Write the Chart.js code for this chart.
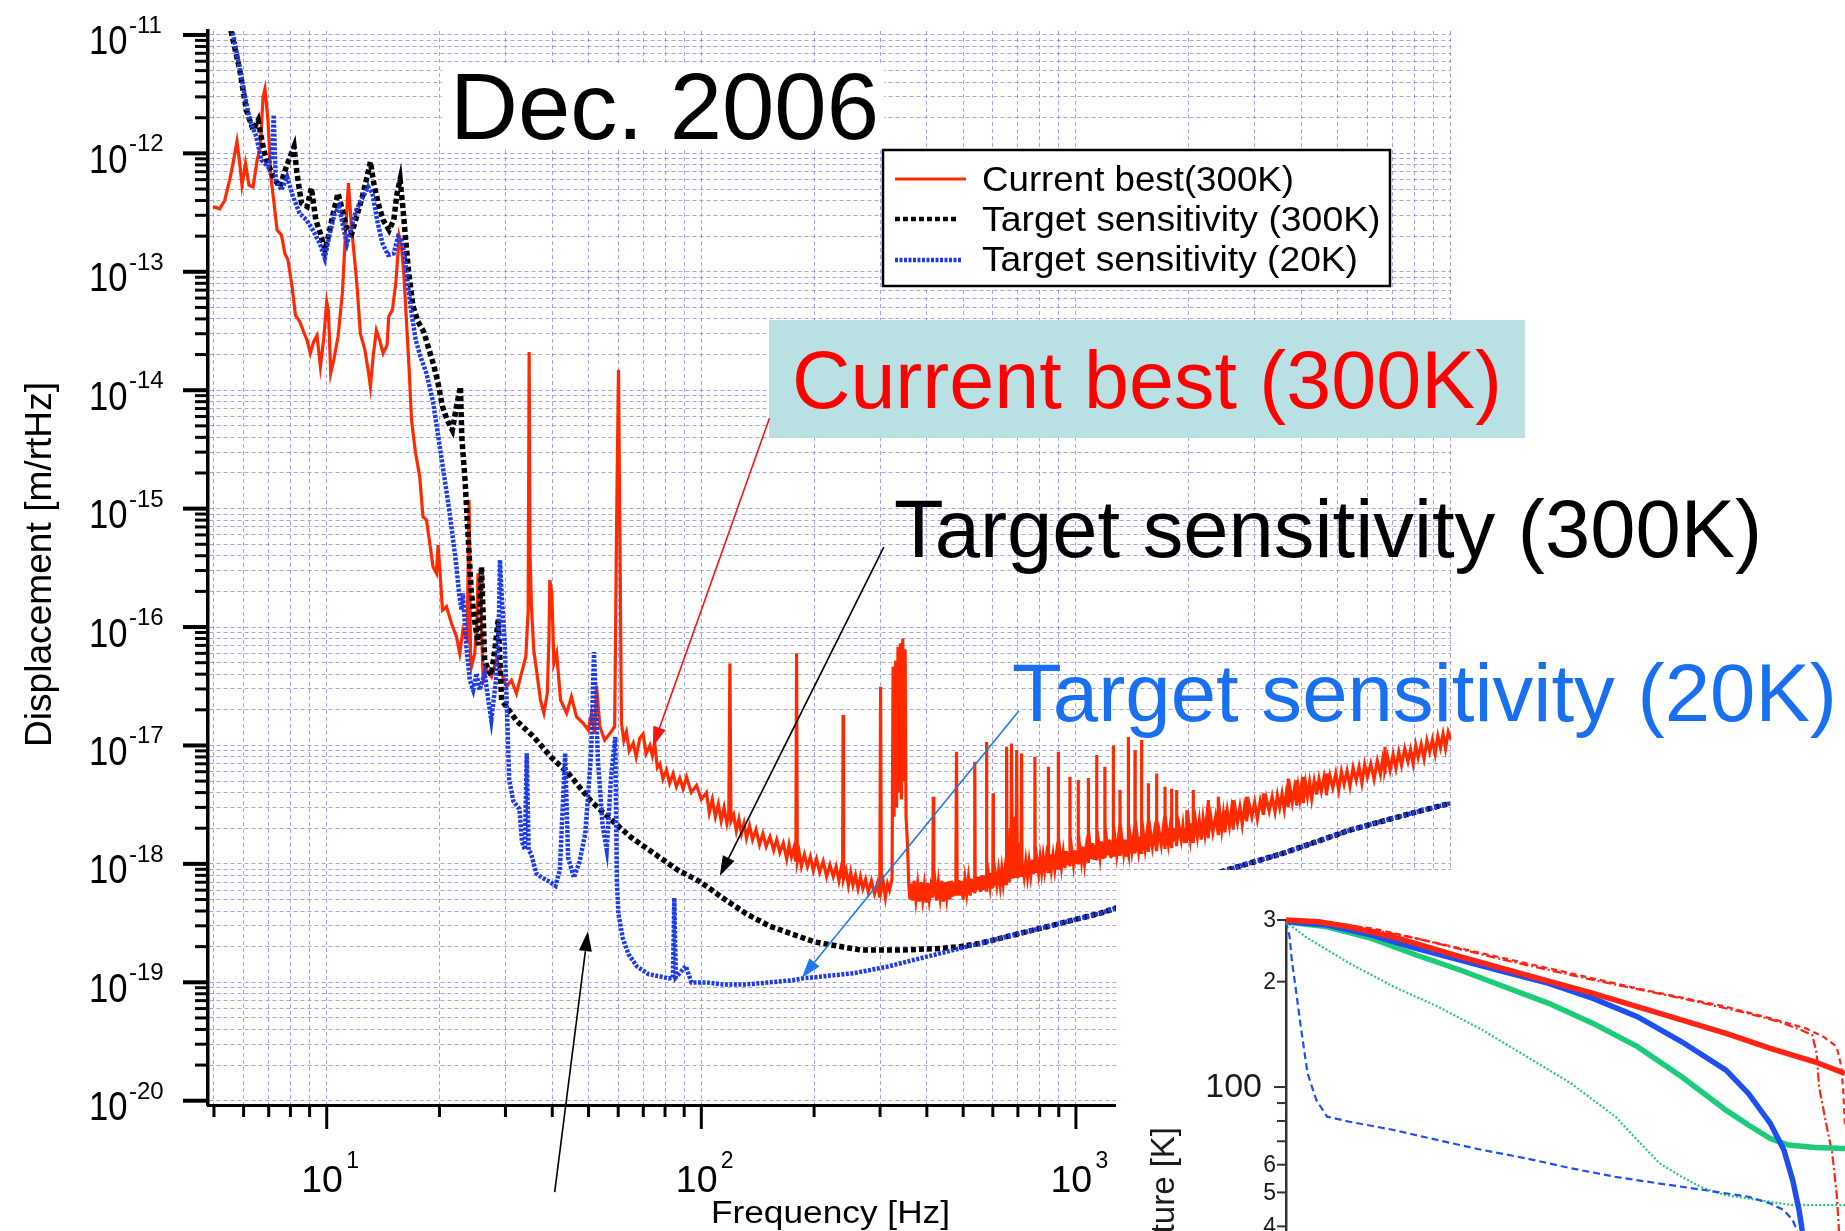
<!DOCTYPE html>
<html>
<head>
<meta charset="utf-8">
<title>Displacement sensitivity, Dec. 2006</title>
<script src="https://cdn.jsdelivr.net/npm/chart.js@4.4.1/dist/chart.umd.min.js"></script>
<style>
  html, body { margin: 0; padding: 0; background: #fff; overflow: hidden; }
  #wrap { position: relative; width: 1845px; height: 1231px; }
  #main { position: absolute; left: 0; top: 0; }
  #inset { position: absolute; left: 1116px; top: 870px; background: #fff; }
</style>
</head>
<body>
<div id="wrap">
  <canvas id="main" width="1845" height="1231"></canvas>
  <canvas id="inset" width="729" height="361"></canvas>
</div>
<script>
// ---------- displacement spectra: [frequency Hz, displacement m/rtHz] ----------
const currentBest = [
  [4.97,3.55e-13],[5.18,3.4e-13],[5.34,4.0e-13],[5.51,6.0e-13],[5.62,8.2e-13],[5.76,1.26e-12],[5.86,8.2e-13],
  [5.94,5.4e-13],[6.07,8.2e-13],[6.20,5.4e-13],[6.36,5.2e-13],[6.52,8.8e-13],[6.65,1.14e-12],[6.76,3.0e-12],
  [6.84,3.5e-12],[6.97,1.9e-12],[7.09,6.4e-13],[7.22,4.0e-13],[7.37,2.25e-13],[7.57,2.05e-13],[7.73,1.43e-13],
  [7.88,1.26e-13],[8.08,7.5e-14],[8.25,4.3e-14],[8.47,3.8e-14],[8.68,3.1e-14],[8.86,2.65e-14],[9.04,2.05e-14],
  [9.23,2.57e-14],[9.42,2.9e-14],[9.62,1.58e-14],[9.82,2.74e-14],[10.0,5.6e-14],[10.1,4.75e-14],[10.25,1.39e-14],
  [10.44,1.8e-14],[10.72,2.83e-14],[11.01,6.6e-14],[11.22,2.1e-13],[11.43,5.6e-13],[11.64,2.4e-13],[11.83,1.43e-13],
  [12.05,7.5e-14],[12.30,3.0e-14],[12.64,2.2e-14],[12.90,1.48e-14],[13.08,1.07e-14],[13.30,1.92e-14],[13.57,3.2e-14],
  [13.85,2.65e-14],[14.14,2.05e-14],[14.49,2.4e-14],[14.64,4.2e-14],[14.97,4.75e-14],[15.29,8.0e-14],[15.61,1.98e-13],
  [15.83,1.63e-13],[16.06,9.7e-14],[16.32,3.9e-14],[16.60,1.48e-14],[16.84,5.6e-15],[17.25,3.0e-15],[17.71,1.86e-15],
  [18.07,8.55e-16],[18.46,8.0e-16],[18.84,5.1e-16],[19.22,3.23e-16],[19.63,2.84e-16],[19.83,4.93e-16],[20.13,2.49e-16],
  [20.37,1.39e-16],[20.88,1.49e-16],[21.53,1.07e-16],[22.2,8.28e-17],[22.65,6.0e-17],[23.1,9.44e-17],[23.7,8.0e-17],
  [23.99,1.18e-15],[24.2,6.0e-17],[24.34,4.62e-17],[24.84,6.0e-17],[25.2,1.2e-16],[25.35,2.84e-16],[25.73,1.92e-16],
  [26.15,3.56e-17],[26.79,4.33e-17],[27.54,3.8e-17],[28.39,5.26e-17],[29.28,4.07e-17],[30.18,3.13e-17],[31.13,3.56e-17],
  [32.1,2.75e-17],[33.1,4.07e-17],[34.0,5.61e-17],[34.5,1.39e-16],[34.7,2.1e-14],[34.9,4.0e-16],[35.2,1.49e-16],
  [35.7,6.4e-17],[36.4,4.07e-17],[37.2,2.42e-17],[38.0,1.87e-17],[38.8,2.75e-17],[39.2,8.0e-17],[39.4,2.49e-16],
  [39.9,1.92e-16],[40.4,4.93e-17],[41.1,6.0e-17],[42.1,2.42e-17],[43.7,1.87e-17],[45.0,2.58e-17],[46.4,1.75e-17],
  [48.4,1.54e-17],[49.9,1.35e-17],[50.9,1.87e-17],[51.9,1.26e-17],[52.5,3.2e-17],[53.6,1.44e-17],[55.2,1.11e-17],
  [57.0,1.26e-17],[58.7,1.44e-17],[59.4,7.5e-16],[60.1,1.49e-14],[60.6,7.0e-16],[61.2,1.54e-17],[62.1,1.1e-17],
  [63.1,1.3e-17],[64.2,9.0e-18],[65.8,1.05e-17],[67.0,8.0e-18],[68.5,1.15e-17],[69.9,1.25e-17],[71.2,8.5e-18],
  [72.9,1.0e-17],[74.0,8.2e-18],[75.1,1.05e-17],[76.3,6.5e-18],[77.5,7.0e-18],[79.0,5.2e-18],[80.7,6.2e-18],
  [82.3,4.8e-18],[84.1,5.8e-18],[85.8,4.5e-18],[87.6,5.3e-18],[89.4,4.3e-18],[91.3,5.4e-18],[94.0,4.0e-18],
  [97.1,4.6e-18],[100,3.5e-18],[103.2,4.0e-18],[105,2.7e-18],[107,3.5e-18],[109,2.5e-18],[111,3.2e-18],
  [113,2.3e-18],[115,3.0e-18],[117,2.2e-18],[118.4,2.7e-18],[119.2,4.93e-17],[120,2.3e-18],[122,2.6e-18],
  [124,1.9e-18],[126,2.4e-18],[128,1.8e-18],[130,2.2e-18],[132,1.65e-18],[134.5,2.1e-18],[137,1.6e-18],
  [140,1.95e-18],[143,1.45e-18],[146,1.8e-18],[149,1.4e-18],[152.5,1.7e-18],[156,1.3e-18],[159,1.6e-18],
  [162,1.25e-18],[165.5,1.5e-18],[169,1.1e-18],[171.5,1.45e-18],[174,1.15e-18],[176.5,1.35e-18],[178.8,1.05e-18],
  [179.6,6.0e-17],[180.4,1.05e-18],[182.5,1.25e-18],[185,9.5e-19],[188.5,1.2e-18],[192,9.5e-19],[195.5,1.15e-18],
  [199,8.8e-19],[203,1.1e-18],[207,8.5e-19],[211.5,1.05e-18],[216,7.8e-19],[220.5,9.8e-19],[225,7.8e-19],
  [229,9.5e-19],[233,7.2e-19],[236,9.0e-19],[238.3,7.6e-19],[239,1.81e-17],[239.8,7.5e-19],[243.5,8.8e-19],
  [247,6.6e-19],[250.5,8.5e-19],[254,6.6e-19],[258,8.0e-19],[262,6.2e-19],[266,7.8e-19],[270,6.2e-19],
  [274.5,7.4e-19],[279,5.8e-19],[284.5,7.2e-19],[290,5.6e-19],[295,6.8e-19],[299.5,5.2e-19],[301,3.13e-17],
  [302.5,6.0e-19],[306,7.0e-19],[310,5.2e-19],[314,6.8e-19],[318,6.0e-19],[323,7.5e-19],[325,4.62e-17],
  [327,2.5e-18],[330,5.2e-17],[332,3.0e-18],[335,6.8e-17],[337,4.0e-18],[340,7.3e-17],[342,3.5e-18],
  [345,8.0e-17],[347,5.0e-18],[350,6.5e-17],[352,2.5e-18],[355,1.5e-18],[358,6.5e-19],[360.5,5.0e-19],
  [363,6.8e-19],[366.5,4.9e-19],[370,7.2e-19],[374,5.0e-19],[378,6.8e-19],[382,4.8e-19],[386,7.0e-19],
  [390,5.0e-19],[394,6.6e-19],[398,4.7e-19],[402,6.9e-19],[406,5.0e-19],[410,6.4e-19],[415,5.2e-19],
  [416,3.69e-18],[417.5,5.5e-19],[421,6.8e-19],[425,4.9e-19],[429.5,7.0e-19],[434,5.2e-19],[438.5,7.2e-19],
  [443,4.8e-19],[447.5,7.0e-19],[452,5.2e-19],[456.5,7.1e-19],[461,5.0e-19],[465.5,7.2e-19],[470,5.3e-19],
  [474,7.0e-19],[478,5.4e-19],[480,8.85e-18],[482,5.4e-19],[486,7.3e-19],[490,5.4e-19],[495,7.2e-19],
  [500,5.0e-19],[505.5,7.4e-19],[511,5.6e-19],[516.5,7.6e-19],[522,5.4e-19],[526,7.5e-19],[530,5.8e-19],
  [533,7.0e-19],[536,5.8e-19],[537,7.28e-18],[538.5,5.8e-19],[543,7.8e-19],[548,6.0e-19],[552,7.8e-19],
  [556,5.8e-19],[561,8.0e-19],[566,6.0e-19],[571,8.0e-19],[576,6.0e-19],[577,1.07e-17],[578.5,6.2e-19],
  [584,8.2e-19],[590,6.4e-19],[595,8.4e-19],[600,6.2e-19],[601,3.94e-18],[602,6.5e-19],[608,8.6e-19],
  [615,6.6e-19],[621.5,8.8e-19],[628,6.6e-19],[634,9.0e-19],[640,6.8e-19],[646,8.8e-19],[652,6.8e-19],
  [653,9.75e-18],[655,7.0e-19],[659.5,9.0e-19],[664,7.0e-19],[668,2.0e-18],[670.5,7.5e-19],[673,1.04e-17],
  [676.5,7.5e-19],[680,9.6e-19],[684,7.6e-19],[688,2.5e-18],[691.5,7.8e-19],[695,9.14e-18],[697.5,7.8e-19],
  [700,9.8e-19],[705,7.8e-19],[710,1.5e-18],[713,8.0e-19],[716,8.57e-18],[718,8.0e-19],[720,1.0e-18],
  [727.5,7.8e-19],[735,1.05e-18],[742.5,7.8e-19],[750,1.05e-18],[757.5,8.0e-19],[765,1.08e-18],[770.5,8.2e-19],
  [776,1.0e-18],[777,8.04e-18],[778.5,8.4e-19],[786.5,1.1e-18],[795,8.4e-19],[802.5,1.12e-18],[810,8.6e-19],
  [817.5,1.15e-18],[825,8.8e-19],[834,1.15e-18],[843,8.6e-19],[844,6.6e-18],[845.5,9.0e-19],[853,1.2e-18],
  [860,9.0e-19],[869,1.18e-18],[878,9.0e-19],[887,1.2e-18],[896,9.2e-19],[897,8.85e-18],[898.5,9.5e-19],
  [906.5,1.25e-18],[915,9.4e-19],[925,1.25e-18],[935,9.2e-19],[942.5,1.28e-18],[950,9.8e-19],[956.5,1.25e-18],
  [963,9.8e-19],[964,5.45e-18],[965.5,1.0e-18],[975,1.3e-18],[985,1.0e-18],[992.5,1.3e-18],[1000,1.0e-18],
  [1006.5,1.3e-18],[1013,1.02e-18],[1014,5.1e-18],[1015.5,1.05e-18],[1025,1.35e-18],[1035,1.05e-18],[1045,1.4e-18],
  [1055,1.02e-18],[1066,1.38e-18],[1078,1.05e-18],[1079,5.3e-18],[1080.5,1.08e-18],[1090,1.45e-18],[1100,1.1e-18],
  [1109,1.5e-18],[1118,1.08e-18],[1126.5,1.45e-18],[1135,1.1e-18],[1136,8.3e-18],[1137.5,1.12e-18],[1149,1.5e-18],
  [1160,1.15e-18],[1170,1.55e-18],[1180,1.1e-18],[1187,1.5e-18],[1194,1.15e-18],[1195,6.6e-18],[1196.5,1.15e-18],
  [1208,1.55e-18],[1220,1.18e-18],[1230,1.6e-18],[1240,1.12e-18],[1248.5,1.55e-18],[1257,1.18e-18],[1258,1.0e-17],
  [1259.5,1.15e-18],[1272,1.6e-18],[1285,1.2e-18],[1297.5,1.6e-18],[1310,1.2e-18],[1311,4.2e-18],[1312.5,1.2e-18],
  [1326,1.65e-18],[1340,1.25e-18],[1350,1.6e-18],[1360,1.15e-18],[1369.5,1.6e-18],[1379,1.22e-18],[1380,1.18e-17],
  [1381.5,1.2e-18],[1395,1.7e-18],[1410,1.28e-18],[1423.5,1.65e-18],[1437,1.22e-18],[1438,9.1e-18],[1439.5,1.25e-18],
  [1455,1.75e-18],[1470,1.3e-18],[1483,1.7e-18],[1496,1.25e-18],[1497,1.11e-17],[1498.5,1.3e-18],[1514,1.8e-18],
  [1530,1.35e-18],[1545,1.75e-18],[1560,1.3e-18],[1561,4.79e-18],[1562.5,1.3e-18],[1581,1.85e-18],[1600,1.4e-18],
  [1620,1.85e-18],[1641,1.32e-18],[1642,5.8e-18],[1643.5,1.35e-18],[1667,1.9e-18],[1690,1.45e-18],[1709,1.95e-18],
  [1728,1.38e-18],[1729,4.48e-18],[1730.5,1.4e-18],[1748,1.95e-18],[1765,1.5e-18],[1782,1.95e-18],[1800,1.4e-18],
  [1801,4.3e-18],[1802.5,1.45e-18],[1816,2.0e-18],[1830,1.55e-18],[1843,2.0e-18],[1856,1.45e-18],[1857,4.2e-18],
  [1858.5,1.5e-18],[1884,2.1e-18],[1910,1.6e-18],[1930,2.1e-18],[1950,1.5e-18],[1962,2.0e-18],[1975,1.55e-18],
  [1976,2.84e-18],[1977.5,1.55e-18],[2000,2.2e-18],[2020,1.65e-18],[2038,2.2e-18],[2056,1.55e-18],[2057,4.2e-18],
  [2058.5,1.6e-18],[2085,2.3e-18],[2110,1.7e-18],[2135,2.3e-18],[2160,1.6e-18],[2185,2.4e-18],[2210,1.8e-18],
  [2232,2.4e-18],[2255,1.7e-18],[2256,3.46e-18],[2257.5,1.75e-18],[2290,2.5e-18],[2320,1.85e-18],[2360,2.5e-18],
  [2398,1.8e-18],[2399,3.69e-18],[2400.5,1.85e-18],[2425,2.6e-18],[2450,1.95e-18],[2475,2.6e-18],[2499,1.9e-18],
  [2500,2.84e-18],[2501.5,1.95e-18],[2535,2.8e-18],[2570,2.1e-18],[2600,2.8e-18],[2629,2.0e-18],[2630,3.46e-18],
  [2631.5,2.1e-18],[2665,2.9e-18],[2700,2.25e-18],[2740,3.0e-18],[2780,2.15e-18],[2818,3.0e-18],[2855,2.35e-18],
  [2856,3.69e-18],[2857.5,2.35e-18],[2900,3.2e-18],[2950,2.5e-18],[3000,3.3e-18],[3050,2.4e-18],[3105,3.4e-18],
  [3163,2.65e-18],[3164,3.94e-18],[3165.5,2.6e-18],[3220,3.6e-18],[3280,2.8e-18],[3340,3.7e-18],[3400,2.75e-18],
  [3450,3.8e-18],[3500,3.0e-18],[3550,3.9e-18],[3600,2.9e-18],[3643,3.9e-18],[3687,3.1e-18],[3688,5.27e-18],
  [3689.5,3.1e-18],[3735,4.2e-18],[3780,3.3e-18],[3830,4.3e-18],[3884,3.2e-18],[3885,5.1e-18],[3886.5,3.25e-18],
  [3920,4.4e-18],[3960,3.5e-18],[4000,4.5e-18],[4045,3.35e-18],[4046,5.45e-18],[4047.5,3.45e-18],[4100,4.8e-18],
  [4150,3.7e-18],[4205,4.9e-18],[4260,3.55e-18],[4325,5.0e-18],[4390,3.9e-18],[4391,4.93e-18],[4392.5,3.85e-18],
  [4455,5.2e-18],[4520,4.1e-18],[4595,5.4e-18],[4669,3.9e-18],[4670,5.8e-18],[4671.5,4.0e-18],[4760,5.6e-18],
  [4850,4.4e-18],[4940,5.8e-18],[5030,4.2e-18],[5115,6.0e-18],[5200,4.7e-18],[5295,6.1e-18],[5390,4.5e-18],
  [5495,6.5e-18],[5600,5.1e-18],[5700,6.6e-18],[5800,4.8e-18],[5900,6.9e-18],[6000,5.4e-18],[6125,7.0e-18],
  [6250,5.2e-18],[6375,7.4e-18],[6500,5.7e-18],[6590,7.6e-18],[6682,5.9e-18],[6683,9.75e-18],[6684.5,6.3e-18],
  [6790,8.0e-18],[6900,6.2e-18],[7025,8.4e-18],[7150,6.4e-18],[7275,8.8e-18],[7400,6.8e-18],[7550,9.4e-18],
  [7700,7.3e-18],[7825,9.2e-18],[7950,7.0e-18],[8075,1.0e-17],[8200,7.9e-18],[8350,1.02e-17],[8500,7.7e-18],
  [8650,1.1e-17],[8800,8.8e-18],[8950,1.12e-17],[9100,8.5e-18],[9250,1.2e-17],[9400,9.6e-18],[9550,1.25e-17],
  [9700,9.4e-18],[9860,1.3e-17],[10030,1.12e-17]
];

const target300K = [
  [5.35,2.0e-11],[5.57,1.03e-11],[5.86,5.06e-12],[6.10,2.33e-12],[6.36,1.58e-12],[6.56,1.91e-12],[6.76,1.14e-12],
  [6.90,8.8e-13],[7.19,6.4e-13],[7.49,5.2e-13],[7.80,7.7e-13],[8.18,1.14e-12],[8.33,6.8e-13],[8.56,3.8e-13],
  [8.86,3.55e-13],[9.10,5.1e-13],[9.35,2.74e-13],[9.62,2.1e-13],[9.89,1.53e-13],[10.1,1.98e-13],[10.4,3.1e-13],
  [10.72,4.6e-13],[11.01,3.3e-13],[11.33,2.25e-13],[11.66,2.1e-13],[12.0,2.9e-13],[12.45,4.3e-13],[12.82,6.4e-13],
  [13.08,8.5e-13],[13.35,5.6e-13],[13.72,3.8e-13],[14.14,2.74e-13],[14.67,2.25e-13],[15.1,2.74e-13],[15.41,4.6e-13],
  [15.70,6.0e-13],[15.96,3.55e-13],[16.22,1.98e-13],[16.56,9.7e-14],[17.0,5.1e-14],[17.53,3.8e-14],[18.16,3.1e-14],
  [18.76,2.2e-14],[19.35,1.58e-14],[19.83,1.14e-14],[20.37,7.3e-15],[20.96,5.6e-15],[21.65,4.6e-15],[22.2,7.3e-15],
  [22.75,1.07e-14],[22.94,4.0e-15],[23.4,1.75e-15],[23.8,6.6e-16],[24.3,2.05e-16],[24.8,1.15e-16],[25.4,7.05e-17],
  [25.9,3.21e-16],[26.4,5.26e-17],[27.0,4.33e-17],[27.5,3.93e-17],[28.1,6.4e-17],[28.7,1.15e-16],[29.3,2.42e-17],
  [29.9,2.21e-17],[32.1,1.62e-17],[35.7,1.18e-17],[39.7,7.98e-18],[44.1,5.85e-18],[50.8,3.38e-18],[56.5,2.47e-18],
  [65.0,1.67e-18],[74.9,1.22e-18],[86.2,8.93e-19],[99.3,7.06e-19],[114,5.16e-19],[132,3.78e-19],[152,2.99e-19],
  [175,2.55e-19],[201,2.19e-19],[232,2.02e-19],[267,1.87e-19],[307,1.87e-19],[339,1.87e-19],[383,1.90e-19],
  [434,1.93e-19],[490,2.0e-19],[554,2.13e-19],[627,2.35e-19],[709,2.59e-19],[802,2.85e-19],[907,3.14e-19],
  [1025,3.47e-19],[1159,3.82e-19],[1271,4.21e-19],[2526,8.87e-19],[3577,1.23e-18],[5392,1.93e-18],[8125,2.75e-18],
  [9970,3.24e-18]
];

const target20K = [
  [5.45,1.6e-11],[5.62,1.03e-11],[5.98,3.66e-12],[6.23,1.91e-12],[6.49,1.38e-12],[6.69,8.8e-13],[6.97,7.7e-13],
  [7.15,1.0e-12],[7.22,2.11e-12],[7.31,5.96e-13],[7.57,4.9e-13],[7.84,6.35e-13],[8.13,4.3e-13],[8.47,3.1e-13],
  [8.83,2.74e-13],[9.19,2.25e-13],[9.58,1.74e-13],[9.88,1.3e-13],[10.19,2.11e-13],[10.5,3.1e-13],[10.79,3.55e-13],
  [11.06,2.4e-13],[11.33,1.74e-13],[11.64,2.4e-13],[12.0,3.33e-13],[12.5,4.3e-13],[12.9,5.24e-13],[13.24,4.6e-13],
  [13.63,2.74e-13],[14.08,1.74e-13],[14.58,1.39e-13],[15.1,1.43e-13],[15.5,1.98e-13],[15.83,1.86e-13],[16.16,1.34e-13],
  [16.49,7.5e-14],[16.84,4.46e-14],[17.29,2.65e-14],[17.79,1.92e-14],[18.46,1.39e-14],[19.22,8.0e-15],[20.04,3.33e-15],
  [20.66,1.75e-15],[21.3,9.1e-16],[21.75,5.43e-16],[22.2,3.23e-16],[22.56,1.92e-16],[22.9,1.39e-16],[23.1,1.92e-16],
  [23.6,6.8e-17],[24.1,3.56e-17],[24.6,2.94e-17],[25.1,4.07e-17],[25.6,2.94e-17],[26.4,4.07e-17],[27.0,2.42e-17],
  [27.5,1.64e-17],[28.3,3.56e-17],[28.8,1.0e-16],[29.0,3.68e-16],[29.3,1.92e-16],[29.9,6.8e-17],[30.3,1.87e-17],
  [30.7,5.1e-18],[31.5,3.39e-18],[32.7,2.9e-18],[33.2,1.54e-18],[33.8,1.32e-18],[34.2,8.6e-18],[34.6,1.3e-18],
  [35.1,1.22e-18],[36.3,8.26e-19],[37.6,7.64e-19],[39.4,7.06e-19],[40.8,6.53e-19],[41.9,8.87e-19],[43.3,8.6e-18],
  [44.1,1.13e-18],[45.7,7.64e-19],[47.3,1.04e-18],[49.0,1.81e-18],[50.8,8.6e-18],[51.7,6.15e-17],[53.0,7.38e-18],
  [54.5,2.11e-18],[55.9,1.32e-18],[57.4,5.4e-18],[58.9,1.18e-17],[59.5,7.06e-19],[60.1,3.78e-19],[61.7,2.36e-19],
  [63.9,1.73e-19],[67.3,1.36e-19],[72.3,1.17e-19],[77.6,1.12e-19],[81.8,1.08e-19],[84.0,1.1e-19],[84.7,5.16e-19],
  [85.5,1.1e-19],[90.9,1.37e-19],[94.1,9.98e-20],[103,9.98e-20],[114,9.6e-20],[132,9.6e-20],[152,9.98e-20],
  [175,1.04e-19],[187,1.08e-19],[254,1.19e-19],[312,1.35e-19],[383,1.59e-19],[470,1.87e-19],[532,2.06e-19],
  [627,2.35e-19],[709,2.59e-19],[802,2.85e-19],[907,3.14e-19],[1025,3.47e-19],[1159,3.82e-19],[1271,4.21e-19],
  [2526,8.87e-19],[3577,1.23e-18],[5392,1.93e-18],[8125,2.75e-18],[9970,3.24e-18]
];

// axis ranges and labelled ticks
const freqRange = [4.82, 10030];
const dispRange = [9.2e-21, 1.08e-11];
const freqLabelExps = [1, 2, 3];
const dispLabelExps = [-11, -12, -13, -14, -15, -16, -17, -18, -19, -20];

// ---------- cooling curves (inset): [elapsed time, temperature K] ----------
const coolRedSolid = [[0,300],[8.1,296.7],[15.9,287],[28.1,265.9],[43.6,235.7],[60.3,208.9],[76.9,185.2],
  [93.6,162.3],[110.2,142.3],[121.3,128.9],[132.4,118.1],[140,109.4]];
const coolRedDashDot = [[0,300],[15.9,290.2],[32.6,265.9],[54.7,230.6],[76.9,202.2],[99.1,179.2],[115.7,162.3],
  [123.5,153.7],[129,145.5],[131.8,140.8],[132.9,124.8],[133.5,100.2],[135.1,80.5],[136.8,64.6],[137.9,49.7],[138.5,38.8]];
const coolRedDashed = [[0,300],[21.6,284],[43.6,249],[65.8,218.3],[88,191.3],[110.2,169.6],[121.3,157.1],
  [130.2,147.1],[134.6,139.3],[137.9,130.4],[139.1,114.3],[139.6,95.9],[140,77]];
const coolBlueSolid = [[0.35,296.7],[10.3,290.2],[21.4,271.8],[32.6,249],[43.6,230.6],[54.7,213.5],[65.8,197.8],
  [76.9,179.2],[88,158.8],[99.1,134.7],[110.2,111.8],[115.8,95.9],[121.3,78.7],[124.7,66.1],[126.9,54.2],[128.5,44.5],[129.3,38.8]];
const coolBlueDashed = [[0,296.7],[0.9,268.9],[1.45,230.6],[2.6,185.2],[3.7,148.7],[5.4,109.4],[7.6,91.8],
  [10.3,82.3],[15.9,79.6],[27,75.4],[38.1,70.5],[49.2,66.1],[60.3,62.5],[71.4,58.6],[82.5,55.4],[93.6,53],
  [104.7,50.8],[115.8,48.6],[121.3,46.5],[124.7,44.5],[126.9,41.7],[128,38.8]];
const coolGreenSolid = [[0,296.7],[10.3,287],[21.4,265.9],[32.6,238.3],[43.6,215.9],[54.7,193.4],[65.8,173.4],
  [76.9,152],[88,130.4],[99.1,107],[110.2,85.9],[115.8,77.9],[121.3,71.3],[125.8,68.3],[132.5,67.2],[140,66.8]];
const coolGreenDotted = [[0,296.7],[4.8,268.9],[15.9,225.6],[27,193.4],[38.1,169.6],[49.2,145.5],[60.3,122.1],
  [71.4,102.4],[82.5,82.3],[88,70.5],[93.6,60.5],[99.1,55.4],[104.7,51.3],[110.2,49.1],[121.3,47],[126.9,46],[140,46]];
const tempRange = [38.8, 300];
const tempTicks = [300, 200, 100, 90, 80, 70, 60, 50, 40];
const tempLabels = [[300,'3'],[200,'2'],[100,'100'],[60,'6'],[50,'5'],[40,'4']];

// ---------- helpers ----------
const FONT = '"Liberation Sans", Arial, Helvetica, sans-serif';
const toXY = arr => arr.map(p => ({ x: p[0], y: p[1] }));

function logGrid(lo, hi) {
  const vals = [];
  for (let e = Math.floor(Math.log10(lo)); e <= Math.ceil(Math.log10(hi)); e++) {
    for (let m = 1; m <= 9; m++) {
      const v = m * Math.pow(10, e);
      if (v >= lo * 0.9999 && v <= hi * 1.0001) vals.push(v);
    }
  }
  return vals;
}
const isDecade = v => Math.abs(Math.log10(v) - Math.round(Math.log10(v))) < 1e-6;

// text squeezed/stretched horizontally to a measured width
function fitText(ctx, text, x, y, size, width, color, align) {
  ctx.save();
  ctx.font = size + 'px ' + FONT;
  ctx.fillStyle = color || '#000';
  ctx.textBaseline = 'alphabetic';
  ctx.textAlign = 'left';
  const w = ctx.measureText(text).width;
  const sx = width ? width / w : 1;
  ctx.translate(x, y);
  ctx.scale(sx, 1);
  let dx = 0;
  if (align === 'center') dx = -w / 2;
  if (align === 'right') dx = -w;
  ctx.fillText(text, dx, 0);
  ctx.restore();
}

function arrow(ctx, x1, y1, x2, y2, color, lw, headLen, headW) {
  const a = Math.atan2(y2 - y1, x2 - x1);
  const bx = x2 - headLen * Math.cos(a), by = y2 - headLen * Math.sin(a);
  ctx.save();
  ctx.strokeStyle = color; ctx.fillStyle = color; ctx.lineWidth = lw;
  ctx.beginPath(); ctx.moveTo(x1, y1); ctx.lineTo(bx, by); ctx.stroke();
  ctx.beginPath();
  ctx.moveTo(x2, y2);
  ctx.lineTo(bx + headW * Math.sin(a), by - headW * Math.cos(a));
  ctx.lineTo(bx - headW * Math.sin(a), by + headW * Math.cos(a));
  ctx.closePath(); ctx.fill();
  ctx.restore();
}

// ---------- main spectrum chart ----------
const freqGrid = logGrid(5, 10000);
const dispGrid = logGrid(1e-20, 1e-11);

const RED = '#ff2a00', BLUE_DOT = '#1e3ce6';

const mainDecor = {
  id: 'mainDecor',
  afterDraw(chart) {
    const ctx = chart.ctx;
    const xs = chart.scales.x, ys = chart.scales.y;
    const a = chart.chartArea;
    ctx.save();

    // tick marks (outside the frame)
    ctx.fillStyle = '#000';
    dispGrid.forEach(v => {
      const y = ys.getPixelForValue(v);
      const major = isDecade(v);
      const len = major ? 25 : 13, th = major ? 4 : 3;
      ctx.fillRect(a.left - len, y - th / 2, len, th);
    });
    freqGrid.forEach(v => {
      const x = xs.getPixelForValue(v);
      const len = isDecade(v) ? 24 : 12;
      ctx.fillRect(x - 1.5, a.bottom, 3, len);
    });

    // tick labels 10^n
    dispLabelExps.forEach(e => {
      const y = ys.getPixelForValue(Math.pow(10, e));
      fitText(ctx, '10', 127.5, y + 19.5, 41, 38.5, '#000', 'right');
      fitText(ctx, String(e), 129, y - 2, 24, null, '#000', 'left');
    });
    freqLabelExps.forEach(e => {
      const x = xs.getPixelForValue(Math.pow(10, e));
      fitText(ctx, '10', x - 25.5, 1192, 37, 41.7, '#000', 'left');
      fitText(ctx, String(e), x + 19.5, 1168, 23, null, '#000', 'left');
    });

    // axis titles
    fitText(ctx, 'Frequency [Hz]', 711, 1223, 31, 239, '#000', 'left');
    ctx.save();
    ctx.translate(51, 564.5);
    ctx.rotate(-Math.PI / 2);
    fitText(ctx, 'Displacement [m/rtHz]', 0, 0, 36, 365, '#000', 'center');
    ctx.restore();

    // date stamp
    ctx.fillStyle = '#fff';
    ctx.fillRect(442, 66, 442, 82);
    fitText(ctx, 'Dec. 2006', 450, 138.5, 95, 429, '#000', 'left');

    // legend box
    ctx.fillStyle = '#fff';
    ctx.fillRect(883, 150, 507, 136);
    ctx.lineWidth = 2.5; ctx.strokeStyle = '#000';
    ctx.strokeRect(883, 150, 507, 136);
    const legendRows = [
      { ds: 2, y: 179, x2: 966, text: 'Current best(300K)', w: 312, base: 190.6 },
      { ds: 1, y: 219, x2: 957, text: 'Target sensitivity (300K)', w: 398.5, base: 230.5 },
      { ds: 0, y: 260, x2: 961, text: 'Target sensitivity (20K)', w: 376, base: 270.9 }
    ];
    legendRows.forEach(r => {
      const d = chart.data.datasets[r.ds];
      ctx.save();
      ctx.strokeStyle = d.borderColor; ctx.lineWidth = Math.min(d.borderWidth, 4.5);
      ctx.setLineDash(d.borderDash || []);
      ctx.beginPath(); ctx.moveTo(895, r.y); ctx.lineTo(r.x2, r.y); ctx.stroke();
      ctx.restore();
      fitText(ctx, r.text, 982, r.base, 35, r.w, '#000', 'left');
    });

    // callout labels
    ctx.fillStyle = '#b9e1e4';
    ctx.fillRect(769, 320, 756, 118);
    fitText(ctx, 'Current best (300K)', 792, 408, 81, 710, '#ff0000', 'left');
    fitText(ctx, 'Target sensitivity (300K)', 894, 557, 81, 868, '#000', 'left');
    fitText(ctx, 'Target sensitivity (20K)', 1012, 720.5, 81, 825, '#1870f0', 'left');

    // callout arrows, anchored in data coordinates
    const P = (f, v) => [xs.getPixelForValue(f), ys.getPixelForValue(v)];
    const arrows = [
      { from: P(152, 5.8e-15), to: P(74.2, 9.75e-18), color: '#ff1010' },
      { from: P(307, 4.74e-16), to: P(112, 7.9e-19), color: '#000' },
      { from: P(704, 1.95e-17), to: P(185.5, 1.09e-19), color: '#1e78f0' },
      { from: P(40.6, 1.69e-21), to: P(49.8, 2.7e-19), color: '#000' }
    ];
    arrows.forEach(r => arrow(ctx, r.from[0], r.from[1], r.to[0], r.to[1], r.color, 1.6, 20, 6.5));

    ctx.restore();
  }
};

const gridVals = (lo, hi) => scale => { scale.ticks = logGrid(lo, hi).map(v => ({ value: v })); };

new Chart(document.getElementById('main'), {
  type: 'line',
  data: {
    datasets: [
      { label: 'Target sensitivity (20K)', data: toXY(target20K), borderColor: BLUE_DOT, borderWidth: 4.5,
        borderDash: [3, 1.5], pointRadius: 0, tension: 0, fill: false },
      { label: 'Target sensitivity (300K)', data: toXY(target300K), borderColor: '#000', borderWidth: 5.5,
        borderDash: [5, 3], pointRadius: 0, tension: 0, fill: false },
      { label: 'Current best(300K)', data: toXY(currentBest), borderColor: RED, borderWidth: 3.2,
        pointRadius: 0, tension: 0, fill: false }
    ]
  },
  options: {
    responsive: false,
    animation: false,
    devicePixelRatio: 1,
    layout: { padding: { left: 208, top: 31, right: 394, bottom: 126 } },
    plugins: { legend: { display: false }, tooltip: { enabled: false } },
    scales: {
      x: {
        type: 'logarithmic', min: freqRange[0], max: freqRange[1],
        afterBuildTicks: gridVals(5, 10000),
        ticks: { display: false },
        grid: { color: 'rgba(110,110,210,0.62)', lineWidth: 1, drawTicks: false },
        border: { display: true, color: '#000', width: 3, dash: [4, 3] }
      },
      y: {
        type: 'logarithmic', min: dispRange[0], max: dispRange[1],
        afterBuildTicks: gridVals(1e-20, 1e-11),
        ticks: { display: false },
        grid: { color: 'rgba(110,110,210,0.62)', lineWidth: 1, drawTicks: false },
        border: { display: true, color: '#000', width: 3.5, dash: [4, 3] }
      }
    }
  },
  plugins: [mainDecor]
});

// ---------- inset: cooling curves ----------
const insetDecor = {
  id: 'insetDecor',
  afterDraw(chart) {
    const ctx = chart.ctx, ys = chart.scales.y, a = chart.chartArea;
    ctx.save();
    ctx.fillStyle = '#333';
    tempTicks.forEach(t => {
      const y = ys.getPixelForValue(t);
      const len = t === 100 ? 12 : 9;
      ctx.fillRect(a.left - len, y - 1, len, 2);
    });
    ctx.fillStyle = '#1a1a1a';
    ctx.textAlign = 'right';
    ctx.textBaseline = 'middle';
    tempLabels.forEach(([t, txt]) => {
      const y = ys.getPixelForValue(t);
      const big = txt === '100';
      ctx.font = (big ? 34 : 23) + 'px ' + FONT;
      ctx.fillText(txt, a.left - (big ? 24 : 10), y + 1);
    });
    ctx.translate(58, 257);
    ctx.rotate(-Math.PI / 2);
    ctx.font = '33px ' + FONT;
    ctx.textAlign = 'right';
    ctx.textBaseline = 'alphabetic';
    ctx.fillText('Temperature [K]', 0, 0);
    ctx.restore();
  }
};

const thin = (data, color, dash) => ({ data: toXY(data), borderColor: color, borderWidth: 2.2, borderDash: dash,
  pointRadius: 0, tension: 0, fill: false, clip: false });
const thick = (data, color) => ({ data: toXY(data), borderColor: color, borderWidth: 5.5,
  pointRadius: 0, tension: 0, fill: false, clip: false });

new Chart(document.getElementById('inset'), {
  type: 'line',
  data: {
    datasets: [
      thick(coolRedSolid, '#ff2414'),
      thick(coolBlueSolid, '#1e50f0'),
      thick(coolGreenSolid, '#1ccc78'),
      thin(coolRedDashDot, '#ff2414', [9, 3, 2, 3]),
      thin(coolRedDashed, '#ff2414', [6, 4]),
      thin(coolBlueDashed, '#1e50f0', [7, 4]),
      thin(coolGreenDotted, '#1ccc78', [2, 2])
    ]
  },
  options: {
    responsive: false,
    animation: false,
    devicePixelRatio: 1,
    layout: { padding: { left: 170, top: 50, right: 0, bottom: 0 } },
    plugins: { legend: { display: false }, tooltip: { enabled: false } },
    scales: {
      x: { type: 'linear', min: 0, max: 140, display: false },
      y: {
        type: 'logarithmic', min: tempRange[0], max: tempRange[1],
        ticks: { display: false },
        grid: { display: false, drawTicks: false },
        border: { display: true, color: '#333', width: 2.5 }
      }
    }
  },
  plugins: [insetDecor]
});
</script>
</body>
</html>
